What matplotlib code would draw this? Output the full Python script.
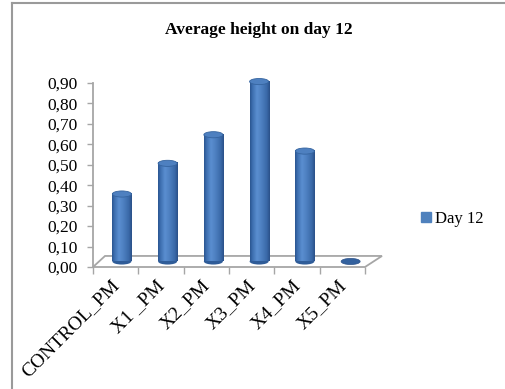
import numpy as np
import matplotlib.pyplot as plt
from matplotlib.patches import Ellipse, Polygon, Patch
from matplotlib.colors import LinearSegmentedColormap
from matplotlib.lines import Line2D
from matplotlib.transforms import ScaledTranslation

title = "Average height on day 12"
series_name = "Day 12"
categories = ["CONTROL_PM", "X1 _PM", "X2_PM", "X3_PM", "X4_PM", "X5_PM"]
heights = [0.33, 0.48, 0.62, 0.88, 0.54, 0.00]
y_ticks = [0.0, 0.1, 0.2, 0.3, 0.4, 0.5, 0.6, 0.7, 0.8, 0.9]

plt.rcParams["font.family"] = ["Liberation Serif", "DejaVu Serif"]

W, H = 506, 389
fig = plt.figure(figsize=(W / 100, H / 100), dpi=100)
ax = fig.add_axes([93 / W, 1 - 267 / H, 272 / W, 184 / H])

# floor depth (category units / value units)
dx_left, dx_right, dy = 0.265, 0.375, 0.054
grey = "#A6A6A6"

floor = Polygon([(0, 0), (6, 0), (6 + dx_right, dy), (dx_left, dy)],
                closed=True, facecolor="white", edgecolor=grey, lw=1.3,
                clip_on=False, zorder=1)
ax.add_patch(floor)

body_cmap = LinearSegmentedColormap.from_list(
    "cyl", [(0.0, "#2A5590"), (0.12, "#3D6FB0"), (0.35, "#5A8ED0"),
            (0.55, "#4F82C3"), (0.85, "#3A69A8"), (1.0, "#2A5088")])
gradient = np.linspace(0, 1, 64).reshape(1, -1)

bar_w = 0.42
ell_h = 0.03
base = dy / 2
for i, h in enumerate(heights):
    xc = i + 0.5 + 0.5 * (dx_left + (dx_right - dx_left) * (i + 0.5) / 6)
    if h <= 0:
        ax.add_patch(Ellipse((xc, base), bar_w, ell_h, facecolor="#33619E",
                             edgecolor="#2A5088", lw=0.5, zorder=3, clip_on=False))
        continue
    ax.add_patch(Ellipse((xc, base), bar_w, ell_h, facecolor="#2F5C98",
                         edgecolor="none", zorder=2, clip_on=False))
    im = ax.imshow(gradient, cmap=body_cmap, aspect="auto", interpolation="bilinear",
                   extent=(xc - bar_w / 2, xc + bar_w / 2, base, base + h), zorder=3)
    im.set_clip_on(False)
    ax.add_patch(Ellipse((xc, base + h), bar_w, ell_h, facecolor="#4E80C0",
                         edgecolor="#35649F", lw=0.6, zorder=4, clip_on=False))

ax.set_xlim(0, 6)
ax.set_ylim(0, 0.9)

for side in ["top", "right", "bottom"]:
    ax.spines[side].set_visible(False)
ax.spines["left"].set_color(grey)
ax.spines["left"].set_linewidth(1.3)

ax.set_yticks(y_ticks)
ax.set_yticklabels([f"{v:.2f}".replace(".", ",") for v in y_ticks])
ax.tick_params(axis="y", length=4, color=grey, width=1, pad=7, labelsize=12.5)

ax.set_xticks(np.arange(6) + 0.5)
ax.set_xticklabels(categories, rotation=45, ha="right", rotation_mode="anchor")
ax.set_xticks(np.arange(7), minor=True)
ax.tick_params(axis="x", which="major", length=0, pad=7, labelsize=14)
ax.tick_params(axis="x", which="minor", length=5, color=grey, width=1)
shift = ScaledTranslation(-0.05, 0, fig.dpi_scale_trans)
for lbl in ax.get_xticklabels():
    lbl.set_transform(lbl.get_transform() + shift)

fig.text(259 / W, 1 - 30 / H, title, ha="center", va="center",
         fontsize=12.5, fontweight="bold")

fig.legend(handles=[Patch(color="#4F81BD")], labels=[series_name],
           loc="center left", bbox_to_anchor=(421 / W, 1 - 219 / H),
           frameon=False, fontsize=12, handlelength=0.6, handleheight=0.6,
           handletextpad=0.25, borderpad=0, borderaxespad=0)

# chart area border (left and top edges)
fig.add_artist(Line2D([12.5 / W, 12.5 / W], [0, 1 - 2.5 / H],
                      transform=fig.transFigure, color="#9A9A9A", lw=1.5))
fig.add_artist(Line2D([12.5 / W, 1], [1 - 2.5 / H, 1 - 2.5 / H],
                      transform=fig.transFigure, color="#9A9A9A", lw=1.5))

fig.savefig("out.png", dpi=100)
